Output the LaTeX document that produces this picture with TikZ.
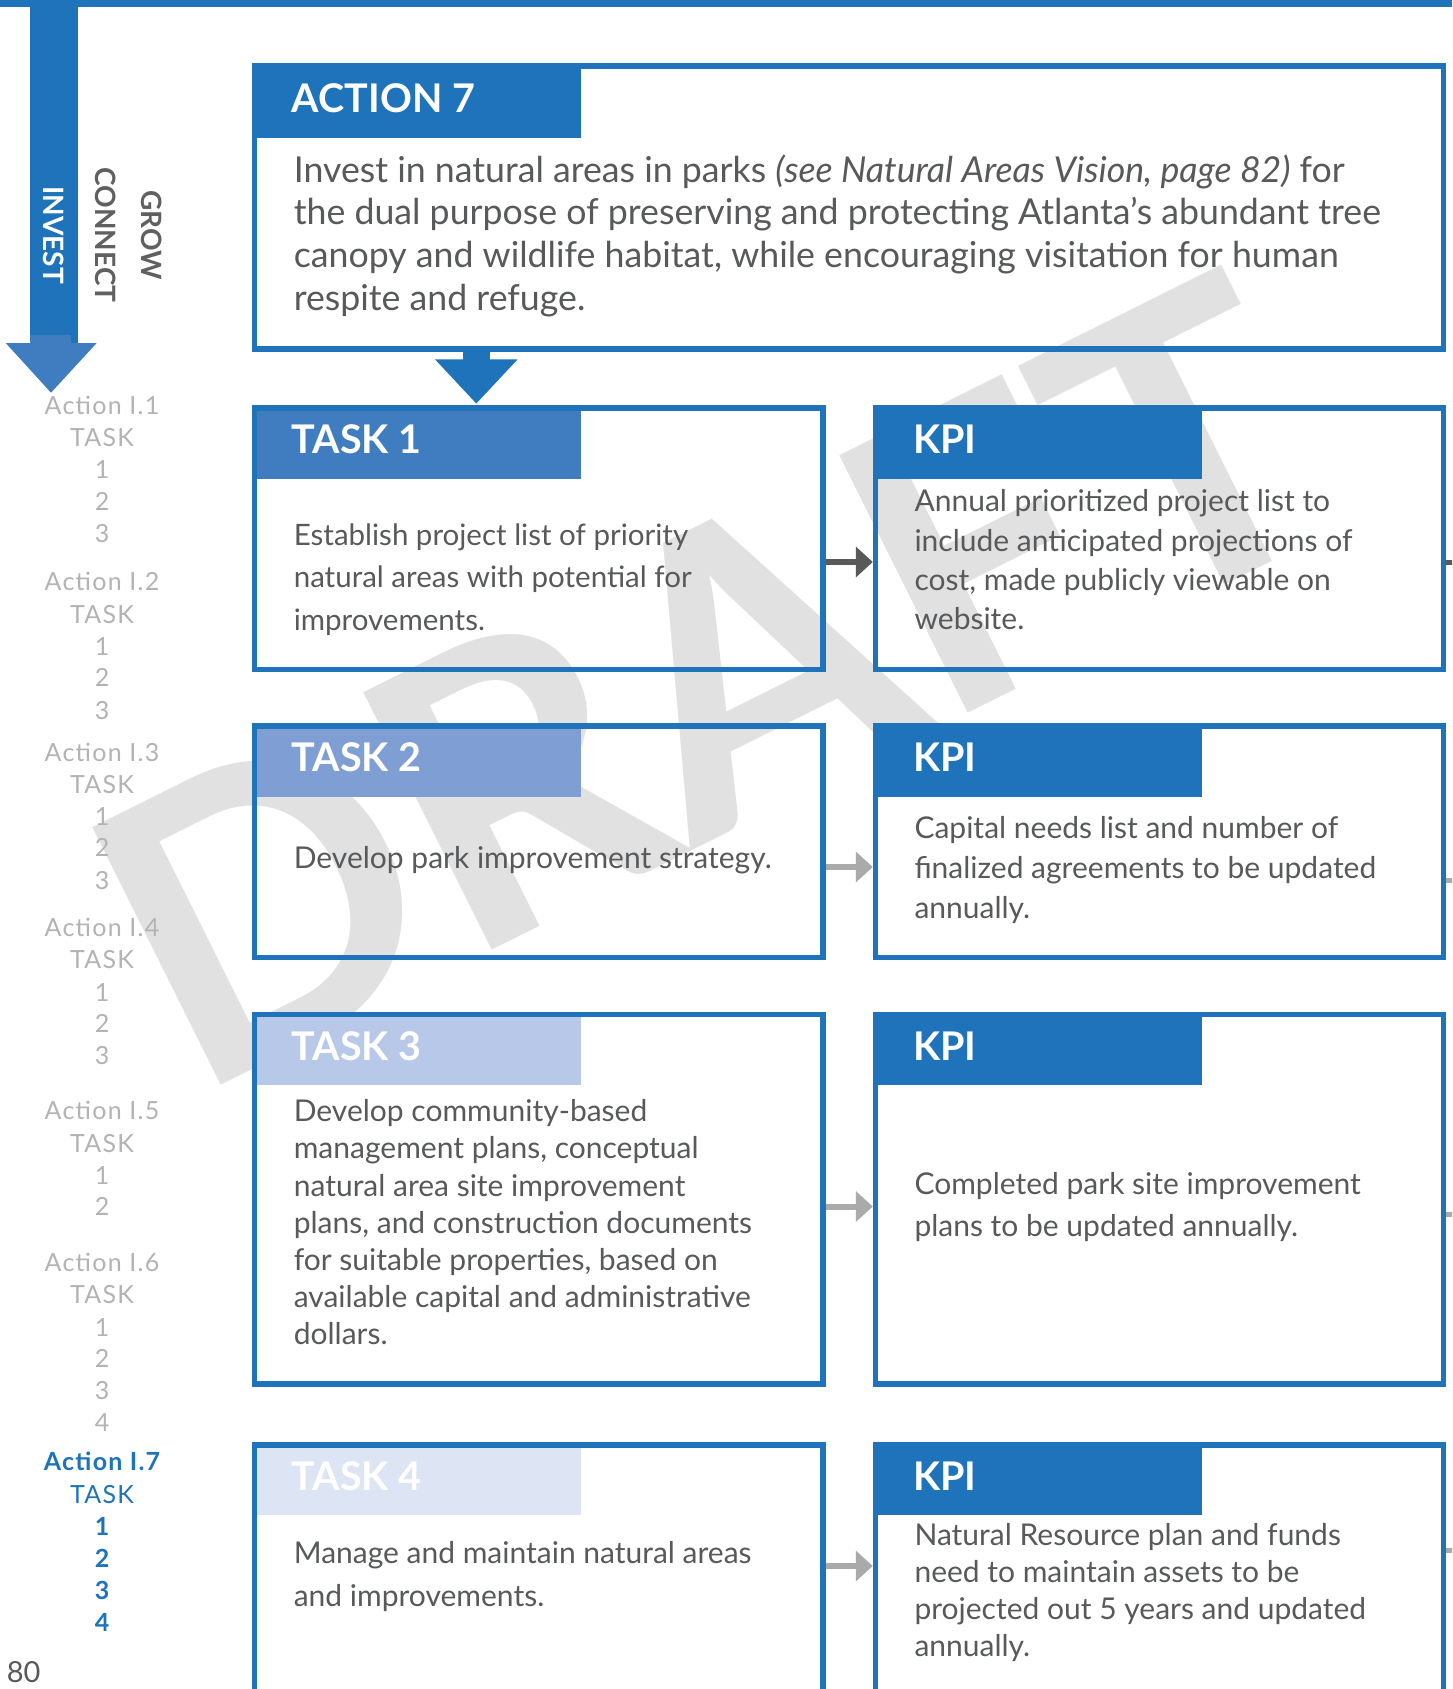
\documentclass[tikz,border=0pt]{standalone}
\usepackage{fontspec}
\setmainfont{Lato}
\usetikzlibrary{fit,calc}
\definecolor{pblue}{HTML}{1E73BA}
\definecolor{headblue}{HTML}{3F7DC0}
\definecolor{tabA}{HTML}{3F7DC0}
\definecolor{tabB}{HTML}{7F9FD4}
\definecolor{tabC}{HTML}{B8C8E8}
\definecolor{tabD}{HTML}{DDE4F4}
\definecolor{tgrey}{HTML}{58595B}
\definecolor{sgrey}{HTML}{B3B3B3}
\definecolor{dgrey}{HTML}{606060}
\definecolor{agreyA}{HTML}{595959}
\definecolor{agreyB}{HTML}{AAAAAA}
\definecolor{wmgrey}{HTML}{E1E1E1}
\newcommand\titlefont{\fontsize{39.5}{44}\selectfont\bfseries}
\newcommand\sbfont{\fontsize{25}{28}\selectfont\addfontfeatures{LetterSpace=5}}
\newcommand\bodyfont[2]{\fontsize{#1}{#2}\selectfont}
\newcommand\linkarrow[4]{%
  \draw[line width=6pt,#4,shorten >=15pt] (#1.east |- #3) -- (#2.west |- #3);
  \fill[#4] (#2.west |- #3) -- ++(-17,-15.5) -- ++(0,31) -- cycle;}
\tikzset{
  boxst/.style={draw=pblue,line width=5.5pt,inner sep=0pt},
  tabst/.style={inner sep=0pt,draw=none},
  titlest/.style={anchor=base west,inner sep=0pt,text=white,font=\titlefont},
  bodyst/.style={anchor=base west,inner sep=0pt,text=tgrey},
  sbst/.style={anchor=base,inner sep=0pt,text=sgrey,font=\sbfont},
  sbblue/.style={anchor=base,inner sep=0pt,text=pblue,font=\sbfont},
  sidest/.style={rotate=-90,inner sep=0pt,font=\fontsize{28}{28}\selectfont\bfseries},
}
\begin{document}
\begin{tikzpicture}[x=1pt,y=-1pt]
\useasboundingbox (0,0) rectangle (1452,1689);
\clip (0,0) rectangle (1452,1689);
\fill[white] (0,0) rectangle (1452,1689);
% watermark
\node[rotate=26.5,anchor=base west,inner sep=0pt,text=wmgrey,font=\fontsize{398}{398}\selectfont\bfseries] (wm) at (192,1100) {DRAFT};
% top band and side arrow
\fill[pblue] (0,0) rectangle (1452,6.7);
\fill[pblue] (30,0) rectangle (78,343);
\fill[headblue] (30,335) -- (71,335) -- (71,343) -- (96.7,343) -- (51,392.7) -- (5.7,343) -- (30,343) -- cycle;
\node[sidest,text=white] (inv) at (54,235) {INVEST};
\node[sidest,text=dgrey] (con) at (106,235) {CONNECT};
\node[sidest,text=dgrey] (grow) at (152,235) {GROW};
% sidebar list
\foreach \yy/\tt [count=\i] in {414.1/Action I.1,446.4/TASK,478.7/1,510/2,542.3/3,
  590.8/Action I.2,623.1/TASK,655.4/1,686.6/2,719/3,
  761/Action I.3,793.3/TASK,825.6/1,856.8/2,889.1/3,
  936.5/Action I.4,968.9/TASK,1001.2/1,1032.4/2,1064.7/3,
  1119.7/Action I.5,1152/TASK,1184.3/1,1215.5/2,
  1271.6/Action I.6,1303.9/TASK,1336.2/1,1367.4/2,1399.7/3,1431/4}
  \node[sbst,name=sb\i] at (102,\yy) {\tt};
\node[sbblue,font=\sbfont\bfseries] (sa7) at (102,1470.8) {Action I.7};
\node[sbblue] (sa7t) at (102,1503.1) {TASK};
\node[sbblue,font=\sbfont\bfseries] (sa71) at (102,1535.5) {1};
\node[sbblue,font=\sbfont\bfseries] (sa72) at (102,1567.8) {2};
\node[sbblue,font=\sbfont\bfseries] (sa73) at (102,1599) {3};
\node[sbblue,font=\sbfont\bfseries] (sa74) at (102,1631.3) {4};
\node[anchor=base west,inner sep=0pt,text=tgrey,font=\fontsize{29}{30}\selectfont] (pg) at (6.7,1682) {80};
% action box
\node[boxst,fit={(254.25,66) (1443.25,349)}] (action) {};
\node[tabst,fill=pblue,fit={(257,68.8) (580.6,137.7)}] (actiontab) {};
\node[titlest] (actiontitle) at (291.7,112.7) {ACTION 7};
\node[bodyst,font=\bodyfont{35.7}{42.8}] (actiontext) at (293.6,182) {\vtop{%
  \hbox{Invest in natural areas in parks \textit{(see Natural Areas Vision, page 82)} for}
  \hbox{the dual purpose of preserving and protecting Atlanta’s abundant tree}
  \hbox{canopy and wildlife habitat, while encouraging visitation for human}
  \hbox{respite and refuge.}}};
% rows: boxes
\node[boxst,fit={(254.25,407.75) (822.75,669.25)}] (task1) {};
\node[boxst,fit={(875.5,407.75) (1443.25,669.25)}] (kpi1) {};
\node[boxst,fit={(254.25,725.75) (822.75,957.25)}] (task2) {};
\node[boxst,fit={(875.5,725.75) (1443.25,957.25)}] (kpi2) {};
\node[boxst,fit={(254.25,1014.25) (822.75,1383.75)}] (task3) {};
\node[boxst,fit={(875.5,1014.25) (1443.25,1383.75)}] (kpi3) {};
\node[boxst,fit={(254.25,1444.75) (822.75,1757)}] (task4) {};
\node[boxst,fit={(875.5,1444.75) (1443.25,1757)}] (kpi4) {};
% tabs
\node[tabst,fill=tabA,fit={(257,410.5) (580.6,478.5)}] (task1tab) {};
\node[tabst,fill=pblue,fit={(878.3,410.5) (1202,478.5)}] (kpi1tab) {};
\node[tabst,fill=tabB,fit={(257,728.5) (580.6,796.7)}] (task2tab) {};
\node[tabst,fill=pblue,fit={(878.3,728.5) (1202,796.7)}] (kpi2tab) {};
\node[tabst,fill=tabC,fit={(257,1017) (580.6,1085)}] (task3tab) {};
\node[tabst,fill=pblue,fit={(878.3,1017) (1202,1085)}] (kpi3tab) {};
\node[tabst,fill=tabD,fit={(257,1447.5) (580.6,1515)}] (task4tab) {};
\node[tabst,fill=pblue,fit={(878.3,1447.5) (1202,1515)}] (kpi4tab) {};
% titles
\node[titlest] (task1title) at (291.7,453.5) {TASK 1};
\node[titlest] (kpi1title) at (913,453.5) {KPI};
\node[titlest] (task2title) at (291.7,771.7) {TASK 2};
\node[titlest] (kpi2title) at (913,771.7) {KPI};
\node[titlest] (task3title) at (291.7,1060) {TASK 3};
\node[titlest] (kpi3title) at (913,1060) {KPI};
\node[titlest] (task4title) at (291.7,1490) {TASK 4};
\node[titlest] (kpi4title) at (913,1490) {KPI};
% texts
\node[bodyst,font=\bodyfont{29.5}{42.5}] (task1text) at (293.6,545) {\vtop{%
  \hbox{Establish project list of priority}
  \hbox{natural areas with potential for}
  \hbox{improvements.}}};
\node[bodyst,font=\bodyfont{30}{39.3}] (kpi1text) at (914.3,511.7) {\vtop{%
  \hbox{Annual prioritized project list to}
  \hbox{include anticipated projections of}
  \hbox{cost, made publicly viewable on}
  \hbox{website.}}};
\node[bodyst,font=\bodyfont{30}{40}] (task2text) at (293.6,868) {Develop park improvement strategy.};
\node[bodyst,font=\bodyfont{30}{40}] (kpi2text) at (914.3,838) {\vtop{%
  \hbox{Capital needs list and number of}
  \hbox{finalized agreements to be updated}
  \hbox{annually.}}};
\node[bodyst,font=\bodyfont{30}{37.2}] (task3text) at (293.6,1121.7) {\vtop{%
  \hbox{Develop community-based}
  \hbox{management plans, conceptual}
  \hbox{natural area site improvement}
  \hbox{plans, and construction documents}
  \hbox{for suitable properties, based on}
  \hbox{available capital and administrative}
  \hbox{dollars.}}};
\node[bodyst,font=\bodyfont{30}{42}] (kpi3text) at (914.3,1194) {\vtop{%
  \hbox{Completed park site improvement}
  \hbox{plans to be updated annually.}}};
\node[bodyst,font=\bodyfont{30}{43}] (task4text) at (293.6,1563.3) {\vtop{%
  \hbox{Manage and maintain natural areas}
  \hbox{and improvements.}}};
\node[bodyst,font=\bodyfont{30}{37.3}] (kpi4text) at (914.3,1545) {\vtop{%
  \hbox{Natural Resource plan and funds}
  \hbox{need to maintain assets to be}
  \hbox{projected out 5 years and updated}
  \hbox{annually.}}};
% block arrow from action to task 1
\coordinate (ax) at (476.3,0);
\fill[pblue] ($(action.south -| ax)+(-13.3,-1)$) rectangle ($(action.south -| ax)+(13.3,8)$);
\fill[pblue] ($(action.south -| ax)+(-41.3,7.6)$) -- ($(action.south -| ax)+(41.3,7.6)$) -- ($(task1.north -| ax)+(0,-1.5)$) -- cycle;
% connectors task -> kpi
\coordinate (r1) at (0,562);
\coordinate (r2) at (0,867);
\coordinate (r3) at (0,1206.5);
\coordinate (r4) at (0,1566);
\linkarrow{task1}{kpi1}{r1}{agreyA}
\linkarrow{task2}{kpi2}{r2}{agreyB}
\linkarrow{task3}{kpi3}{r3}{agreyB}
\linkarrow{task4}{kpi4}{r4}{agreyB}
% stubs leaving on the right
\coordinate (s1) at (1460,562);
\coordinate (s2) at (1460,880);
\coordinate (s3) at (1460,1214);
\coordinate (s4) at (1460,1550);
\draw[line width=5pt,agreyA] (kpi1.east |- s1) -- (s1);
\draw[line width=5pt,agreyB] (kpi2.east |- s2) -- (s2);
\draw[line width=5pt,agreyB] (kpi3.east |- s3) -- (s3);
\draw[line width=5pt,agreyB] (kpi4.east |- s4) -- (s4);
\end{tikzpicture}
\end{document}
